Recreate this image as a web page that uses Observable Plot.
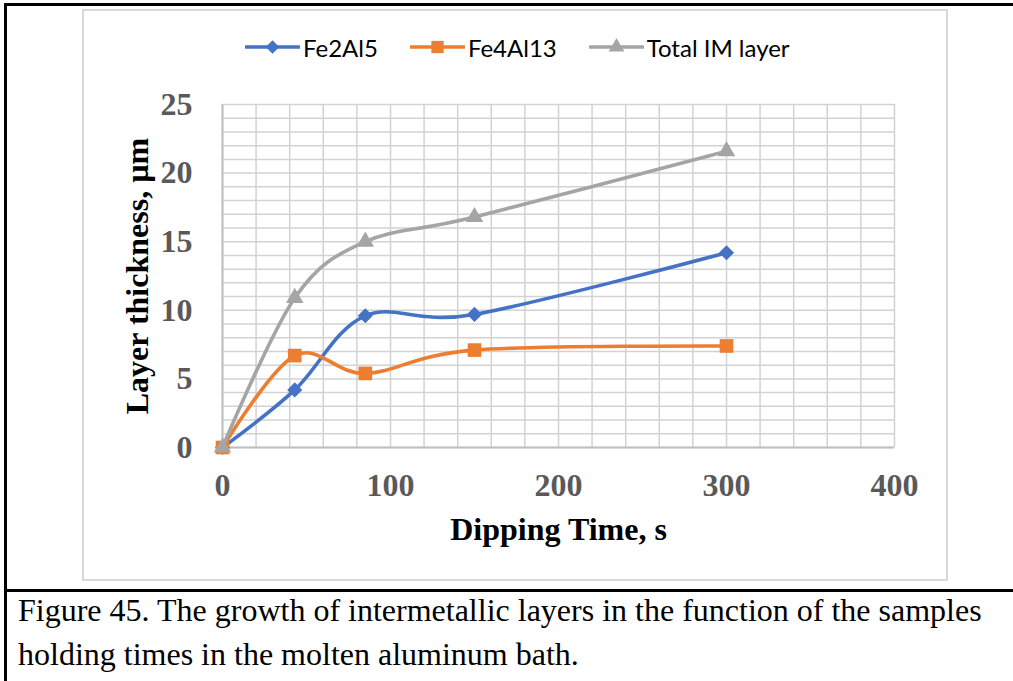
<!DOCTYPE html>
<html>
<head>
<meta charset="utf-8">
<script src="https://cdn.jsdelivr.net/npm/d3@7"></script>
<script src="https://cdn.jsdelivr.net/npm/@observablehq/plot@0.6"></script>
<style>
  html, body { margin: 0; padding: 0; background: #fff; }
  #page { position: relative; width: 1013px; height: 681px; overflow: hidden; background: #fff; }
  .rule { position: absolute; background: #000; }
  #chartbox { position: absolute; left: 82px; top: 9px; width: 862px; height: 568px; border: 2px solid #d9d9d9; }
  #legend { position: absolute; left: 245px; top: 32px; height: 30px; display: flex; align-items: center;
            font-family: Lato, "Open Sans", sans-serif; font-size: 24px; color: #000; white-space: nowrap; }
  .item { display: flex; align-items: center; margin-right: 32px; }
  .item svg { display: block; margin-right: 3px; }
  #plot { position: absolute; left: 83px; top: 90px; }
  #caption { position: absolute; left: 18px; top: 588px; font-family: "Liberation Serif", "Times New Roman", serif;
             font-size: 32px; line-height: 44px; color: #000; white-space: nowrap; }
</style>
</head>
<body>
<div id="page">
  <div class="rule" style="left:4px;top:3px;width:1009px;height:3px"></div>
  <div class="rule" style="left:4px;top:3px;width:3px;height:678px"></div>
  <div class="rule" style="left:4px;top:589px;width:1009px;height:3px"></div>
  <div id="chartbox"></div>
  <div id="legend"></div>
  <div id="plot"></div>
  <div id="caption">Figure 45. The growth of intermetallic layers in the function of the samples<br>holding times in the molten aluminum bath.</div>
</div>
<script>
// Dipping time (s) and measured layer thickness (µm) of each intermetallic layer
const time = [0, 43, 85, 150, 300];
const fe2al5 = [0, 4.2, 9.6, 9.7, 14.2];
const fe4al13 = [0, 6.7, 5.4, 7.1, 7.4];
const totalIM = [0, 10.9, 15.0, 16.8, 21.6];

const seriesNames = ["Fe2Al5", "Fe4Al13", "Total IM layer"];
const seriesValues = [fe2al5, fe4al13, totalIM];
const seriesColors = ["#4472C4", "#ED7D31", "#A5A5A5"];
const seriesSymbols = ["diamond2", "square", "triangle"];
const seriesRadius = [6.8, 7.7, 6.5];

const xTicks = [0, 100, 200, 300, 400];
const yTicks = [0, 5, 10, 15, 20, 25];
const xLabel = "Dipping Time, s";
const yLabel = "Layer thickness, µm";

// long-format table for Plot
const rows = [];
seriesNames.forEach((name, i) => {
  time.forEach((t, j) => rows.push({series: name, time: t, value: seriesValues[i][j]}));
});

const serif = "Liberation Serif, Times New Roman, serif";
const gridStroke = "#d2d2d2";

const marks = [
  // minor + major gridlines
  Plot.ruleX(d3.range(0, 401, 20), {stroke: gridStroke, strokeWidth: 1.5}),
  Plot.ruleY(d3.range(0, 26, 1), {stroke: gridStroke, strokeWidth: 1.5}),
  Plot.ruleX([0], {stroke: "#bfbfbf", strokeWidth: 2}),
  Plot.ruleY([0], {stroke: "#bfbfbf", strokeWidth: 2}),
  Plot.axisX({ticks: xTicks, tickSize: 0, tickPadding: 26, label: null,
    fontSize: 32, fontWeight: "bold", fontFamily: serif, fill: "#595959"}),
  Plot.axisY({ticks: yTicks, tickSize: 0, tickPadding: 30, label: null,
    fontSize: 32, fontWeight: "bold", fontFamily: serif, fill: "#595959"}),
  Plot.text([xLabel], {frameAnchor: "bottom", dy: 92, text: d => d,
    fontSize: 32, fontWeight: "bold", fontFamily: serif, fill: "#000"}),
  Plot.text([yLabel], {frameAnchor: "left", dx: -85, rotate: -90, textAnchor: "middle", text: d => d,
    fontSize: 32, fontWeight: "bold", fontFamily: serif, fill: "#000"})
];

seriesNames.forEach((name, i) => {
  marks.push(Plot.line(rows, {filter: d => d.series === name, x: "time", y: "value",
    stroke: seriesColors[i], strokeWidth: 3.6, curve: "cardinal"}));
  marks.push(Plot.dot(rows, {filter: d => d.series === name, x: "time", y: "value",
    symbol: seriesSymbols[i], r: seriesRadius[i], fill: seriesColors[i], stroke: "none"}));
});

const chart = Plot.plot({
  width: 865,
  height: 485,
  marginLeft: 139,
  marginRight: 54,
  marginTop: 14,
  marginBottom: 128,
  x: {domain: [0, 400]},
  y: {domain: [0, 25]},
  style: {background: "transparent", overflow: "visible"},
  marks
});
document.getElementById("plot").appendChild(chart);

// legend: line swatch with marker, then series name
const legend = d3.select("#legend");
const symbolTypes = {diamond2: d3.symbolDiamond2, square: d3.symbolSquare, triangle: d3.symbolTriangle};
seriesNames.forEach((name, i) => {
  const item = legend.append("div").attr("class", "item");
  const svg = item.append("svg").attr("width", 55).attr("height", 22);
  svg.append("line").attr("x1", 1).attr("x2", 54).attr("y1", 11).attr("y2", 11)
    .attr("stroke", seriesColors[i]).attr("stroke-width", 3.5).attr("stroke-linecap", "round");
  const r = seriesRadius[i] * 0.9;
  svg.append("path").attr("transform", "translate(27.5,11)")
    .attr("d", d3.symbol(symbolTypes[seriesSymbols[i]], Math.PI * r * r)())
    .attr("fill", seriesColors[i]);
  item.append("span").text(name);
});
</script>
</body>
</html>
